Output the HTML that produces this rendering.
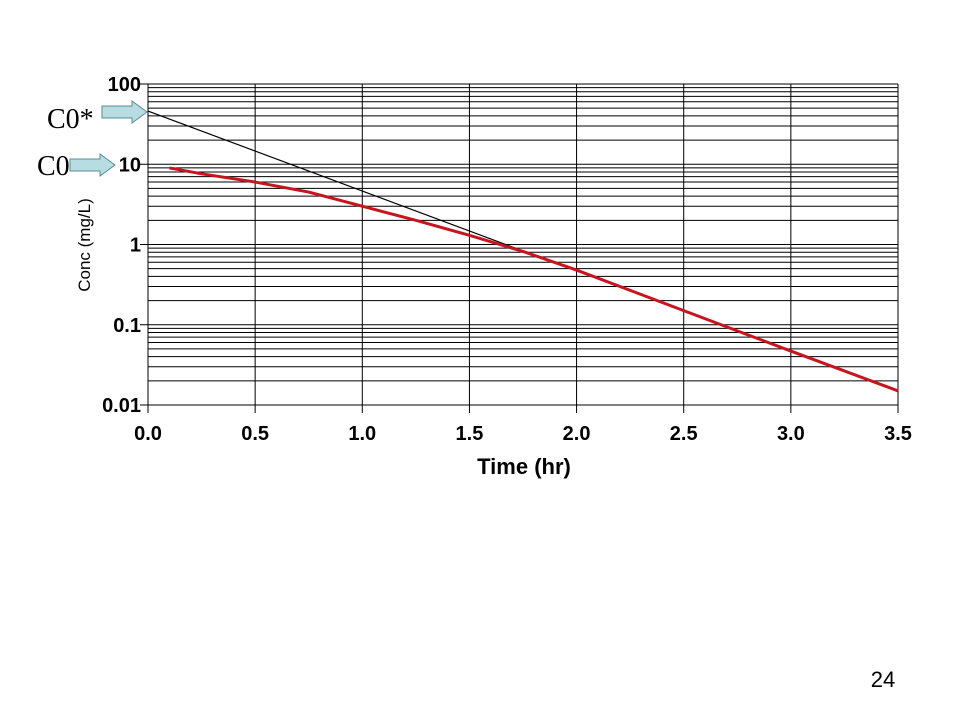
<!DOCTYPE html>
<html><head><meta charset="utf-8"><style>
body{margin:0;background:#fff;width:960px;height:720px;overflow:hidden;font-family:"Liberation Sans",Arial,sans-serif}
</style></head><body>
<svg width="960" height="720" id="svg" xmlns="http://www.w3.org/2000/svg">
<g id="grid"></g>
<g id="series"></g>
<g id="labels"></g>
<text x="90" y="245" transform="rotate(-90 90 245)" font-size="17" text-anchor="middle">Conc (mg/L)</text>
<text x="524" y="474" font-size="22" font-weight="bold" text-anchor="middle">Time (hr)</text>
<text x="47" y="128" font-family="Liberation Serif,serif" font-size="28">C0*</text>
<polygon points="102,106 132,106 132,101 147,112 132,123 132,118 102,118" fill="#b7dde2" stroke="#5a8c95" stroke-width="1"/>
<text x="37" y="175" font-family="Liberation Serif,serif" font-size="28">C0</text>
<polygon points="70,159 100,159 100,154 115,165 100,176 100,171 70,171" fill="#b7dde2" stroke="#5a8c95" stroke-width="1"/>
<text x="883" y="687" font-size="22" text-anchor="middle">24</text>
</svg>
<script>
const xTicks=[0,0.5,1,1.5,2,2.5,3,3.5];
const xTickLabels=["0.0","0.5","1.0","1.5","2.0","2.5","3.0","3.5"];
const yTicks=[100,10,1,0.1,0.01];
const yTickLabels=["100","10","1","0.1","0.01"];
const blackTimes=[0,3.5];
const blackValues=[46,0.015];
const redTimes=[0.1,0.25,0.5,0.75,1.0,1.25,1.5,1.75,2.0,2.5,3.0,3.5];
const redValues=[9,7.6,6,4.5,3.0,2.0,1.3,0.82,0.48,0.15,0.047,0.015];
const L=148,R=898,T=84,B=405;
const X=t=>L+(t-0)/(3.5)*(R-L);
const Y=v=>T+(2-Math.log10(v))/4*(B-T);
const NS="http://www.w3.org/2000/svg";
function mk(tag,attrs,parent){const e=document.createElementNS(NS,tag);for(const k in attrs)e.setAttribute(k,attrs[k]);parent.appendChild(e);return e;}
const grid=document.getElementById('grid'),lab=document.getElementById('labels'),ser=document.getElementById('series');
for(let d=-2;d<2;d++){for(let m=1;m<10;m++){const v=m*Math.pow(10,d);const y=Y(v);
const l=mk('line',{x1:L,x2:R,y1:y,y2:y,stroke:'#000','stroke-width':1},grid);

}}
xTicks.forEach((t,i)=>{const x=X(t);
const l=mk('line',{x1:x,x2:x,y1:T,y2:B+8,stroke:'#000','stroke-width':1},grid);


const tx=mk('text',{x:x,y:B+35,'font-size':20,'font-weight':'bold','text-anchor':'middle'},lab);
tx.textContent=xTickLabels[i];

});
mk('line',{x1:L,x2:R,y1:T,y2:T,stroke:'#000','stroke-width':1},grid);
yTicks.forEach((v,i)=>{const y=Y(v);
const l=mk('line',{x1:L-8,x2:L,y1:y,y2:y,stroke:'#000','stroke-width':1},grid);


const tx=mk('text',{x:L-7,y:y+7,'font-size':20,'font-weight':'bold','text-anchor':'end'},lab);
tx.textContent=yTickLabels[i];

});
const bp=mk('polyline',{points:blackTimes.map((t,i)=>X(t)+','+Y(blackValues[i])).join(' '),fill:'none',stroke:'#000','stroke-width':1.2},ser);


const rp=mk('polyline',{points:redTimes.map((t,i)=>X(t)+','+Y(redValues[i])).join(' '),fill:'none',stroke:'#c8141e','stroke-width':3},ser);


</script>
</body></html>
